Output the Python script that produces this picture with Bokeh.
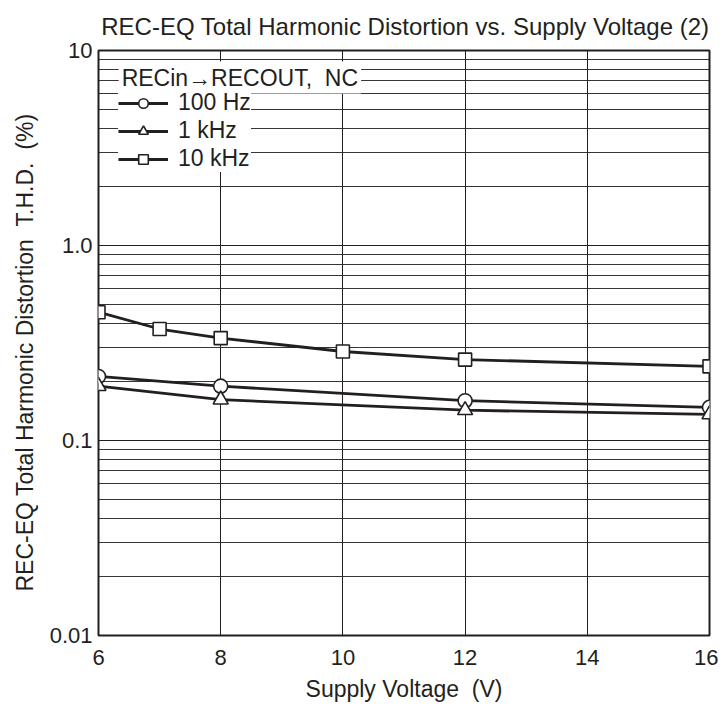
from bokeh.plotting import figure
from bokeh.models import (Range1d, FixedTicker, CustomJSTickFormatter, Legend,
                          LegendItem, Label, Title)
from bokeh.embed import file_html
from bokeh.resources import INLINE

# Data
v_100 = [6, 8, 12, 16]
thd_100 = [0.213, 0.190, 0.160, 0.148]
v_1k = [6, 8, 12, 16]
thd_1k = [0.190, 0.162, 0.143, 0.136]
v_10k = [6, 7, 8, 10, 12, 16]
thd_10k = [0.455, 0.373, 0.335, 0.286, 0.260, 0.240]

x_ticks = [6, 8, 10, 12, 14, 16]
y_ticks = [0.01, 0.1, 1, 10]
y_minor = [m * d for d in [0.01, 0.1, 1] for m in range(2, 10)]

legend_title = "RECin\u2192RECOUT,\u00a0\u00a0NC"
labels = ["100 Hz", "1 kHz", "10 kHz"]

FONT = "Liberation Sans"
INK = "#231f20"

p = figure(output_backend="svg", toolbar_location=None,
           y_axis_type="log",
           frame_width=611, frame_height=585,
           min_border_left=98, min_border_right=9,
           min_border_top=50, min_border_bottom=62,
           x_range=Range1d(6, 16), y_range=Range1d(0.01, 10),
           title="REC-EQ Total Harmonic Distortion vs. Supply Voltage (2)")

p.title.align = "right"
p.title.text_font = FONT
p.title.text_font_size = "24px"
p.title.text_font_style = "normal"
p.title.text_color = INK
p.title.offset = 0
p.title.standoff = 21

p.outline_line_color = INK
p.outline_line_width = 2
p.background_fill_color = "white"
p.border_fill_color = "white"

p.xaxis.ticker = FixedTicker(ticks=x_ticks)
p.yaxis.ticker = FixedTicker(ticks=y_ticks, minor_ticks=y_minor)
p.yaxis.formatter = CustomJSTickFormatter(code="""
const e = Math.round(Math.log10(tick));
if (e == 0) return "1.0";
if (e > 0) return String(Math.pow(10, e));
return tick.toFixed(-e);
""")

for ax in (p.xaxis, p.yaxis):
    ax.axis_line_color = None
    ax.major_tick_line_color = None
    ax.minor_tick_line_color = None
    ax.major_tick_out = 0
    ax.minor_tick_out = 0
    ax.major_tick_in = 0
    ax.minor_tick_in = 0
    ax.major_label_text_font = FONT
    ax.major_label_text_font_size = "22px"
    ax.major_label_text_color = INK
    ax.axis_label_text_font = FONT
    ax.axis_label_text_font_size = "23px"
    ax.axis_label_text_font_style = "normal"
    ax.axis_label_text_color = INK

p.xaxis.major_label_standoff = 14
p.yaxis.major_label_standoff = 6
p.xaxis.axis_label = "Supply Voltage\u00a0\u00a0(V)"
p.xaxis.axis_label_standoff = 8

# y-axis title, shifted slightly upward as in the reference
ytitle = Title(text="REC-EQ Total Harmonic Distortion\u00a0\u00a0T.H.D.\u00a0\u00a0(%)",
               align="left", offset=44, standoff=17,
               text_font=FONT, text_font_size="23px", text_font_style="normal",
               text_color=INK)
p.add_layout(ytitle, "left")

p.xgrid.grid_line_color = INK
p.xgrid.grid_line_width = 1
p.ygrid.grid_line_color = INK
p.ygrid.grid_line_width = 1
p.ygrid.minor_grid_line_color = INK
p.ygrid.minor_grid_line_width = 1
p.ygrid.minor_grid_line_alpha = 0.9

LW = 2.8
MS = 14

l1 = p.line(v_100, thd_100, line_color=INK, line_width=LW)
m1 = p.scatter(v_100, thd_100, marker="circle", size=MS, fill_color="white",
               line_color=INK, line_width=1.6)
l2 = p.line(v_1k, thd_1k, line_color=INK, line_width=LW)
m2 = p.scatter(v_1k, thd_1k, marker="triangle", size=MS + 1, fill_color="white",
               line_color=INK, line_width=1.6)
l3 = p.line(v_10k, thd_10k, line_color=INK, line_width=LW)
m3 = p.scatter(v_10k, thd_10k, marker="square", size=MS - 1, fill_color="white",
               line_color=INK, line_width=1.6)

legend = Legend(items=[
    LegendItem(label=labels[0], renderers=[l1, m1]),
    LegendItem(label=labels[1], renderers=[l2, m2]),
    LegendItem(label=labels[2], renderers=[l3, m3]),
], location=(20, 463))
legend.label_text_font = FONT
legend.label_text_font_size = "23px"
legend.label_text_color = INK
legend.glyph_width = 50
legend.glyph_height = 24
legend.label_height = 24
legend.label_standoff = 10
legend.spacing = 1
legend.padding = 12
legend.margin = 0
legend.border_line_color = None
legend.background_fill_color = "white"
legend.background_fill_alpha = 1.0
p.add_layout(legend)

title_lbl = Label(x=6.33, y=7.27, text=legend_title,
                  text_font=FONT, text_font_size="23px", text_color=INK,
                  text_baseline="middle", text_align="left",
                  background_fill_color="white", padding=3)
p.add_layout(title_lbl)

open("out.html", "w").write(file_html(p, INLINE))
